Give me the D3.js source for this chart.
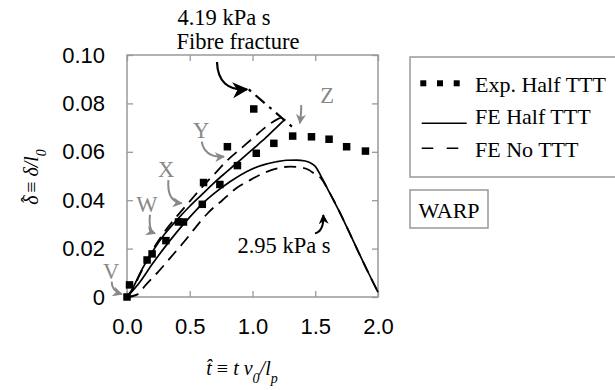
<!DOCTYPE html>
<html>
<head>
<meta charset="utf-8">
<script src="https://cdn.jsdelivr.net/npm/d3@7"></script>
<style>
  body { margin: 0; background: #fff; }
  .tick text { font-family: "Liberation Sans", Arial, sans-serif; font-size: 22px; fill: #000; }
  .serif { font-family: "Liberation Serif", "Times New Roman", serif; }
</style>
</head>
<body>
<div id="chart-container"></div>
<script>
// Exp. Half TTT (squares)
var expX = [0, 0.02, 0.16, 0.20, 0.31, 0.41, 0.45, 0.60, 0.61, 0.74, 0.80, 0.88, 1.01, 1.03, 1.17, 1.32, 1.47, 1.61, 1.75, 1.90];
var expY = [0, 0.005, 0.0153, 0.0178, 0.0233, 0.031, 0.031, 0.0383, 0.0473, 0.0465, 0.0621, 0.0543, 0.0777, 0.0594, 0.0635, 0.0665, 0.0662, 0.0652, 0.0621, 0.0603];

// FE Half TTT, 4.19 kPa s (fractures)
var feHalfHiX = [0, 0.05, 0.1, 0.2, 0.3, 0.4, 0.5, 0.6, 0.7, 0.8, 0.9, 1.0, 1.1, 1.2, 1.26];
var feHalfHiY = [0, 0.004, 0.0095, 0.0185, 0.026, 0.032, 0.0375, 0.0425, 0.0475, 0.052, 0.0565, 0.061, 0.0655, 0.0705, 0.0735];

// FE No TTT, 4.19 kPa s
var feNoHiX = [0, 0.05, 0.1, 0.2, 0.3, 0.4, 0.5, 0.6, 0.7, 0.8, 0.9, 1.0, 1.1, 1.2, 1.25];
var feNoHiY = [0, 0.0035, 0.009, 0.019, 0.027, 0.0335, 0.0395, 0.0455, 0.051, 0.0565, 0.061, 0.0655, 0.070, 0.0735, 0.0745];

// FE Half TTT, 2.95 kPa s
var feHalfLoX = [0, 0.1, 0.2, 0.3, 0.4, 0.5, 0.6, 0.7, 0.82, 0.98, 1.1, 1.19, 1.27, 1.35, 1.42, 1.47, 1.5, 1.55, 1.6, 1.7, 1.8, 1.9, 2.0];
var feHalfLoY = [0, 0.006, 0.0135, 0.0205, 0.027, 0.033, 0.0385, 0.043, 0.0476, 0.0525, 0.0548, 0.0559, 0.0565, 0.0566, 0.0562, 0.0552, 0.054, 0.0495, 0.0445, 0.0345, 0.0235, 0.0125, 0.002];

// FE No TTT, 2.95 kPa s
var feNoLoX = [0, 0.08, 0.15, 0.25, 0.35, 0.45, 0.55, 0.65, 0.76, 0.87, 0.98, 1.08, 1.2, 1.3, 1.38, 1.45, 1.49, 1.55, 1.6, 1.7, 1.8, 1.9, 2.0];
var feNoLoY = [0, 0.001, 0.005, 0.0105, 0.0165, 0.0225, 0.029, 0.035, 0.040, 0.0449, 0.0483, 0.051, 0.0532, 0.0539, 0.0536, 0.0525, 0.051, 0.0488, 0.0445, 0.0345, 0.0235, 0.0125, 0.002];

// fibre fracture dash-dot segment
var fractureX = [0.97, 1.33];
var fractureY = [0.0858, 0.0697];

var xTicks = [0.0, 0.5, 1.0, 1.5, 2.0];
var yTicks = [0, 0.02, 0.04, 0.06, 0.08, 0.10];

var legendLabels = ["Exp. Half TTT", "FE Half TTT", "FE No TTT"];

var svg = d3.select("#chart-container").append("svg")
    .attr("width", 615)
    .attr("height", 390);

var x = d3.scaleLinear().domain([0, 2]).range([127, 378]);
var y = d3.scaleLinear().domain([0, 0.1]).range([297, 55]);

function zip(xs, ys) { return xs.map(function(v, i) { return [v, ys[i]]; }); }

// markers for arrows
var defs = svg.append("defs");
function head(id, w, h, col) {
    defs.append("marker").attr("id", id)
        .attr("viewBox", "0 0 10 10").attr("refX", 9).attr("refY", 5)
        .attr("markerUnits", "userSpaceOnUse")
        .attr("markerWidth", w).attr("markerHeight", h).attr("orient", "auto")
        .append("path").attr("d", "M0,0 L10,5 L0,10 L3,5 Z").attr("fill", col);
}
head("headBig", 19, 16, "#000");
head("headBlack", 11, 10, "#000");
head("headGray", 11, 10, "#888");

// axes (inward ticks)
var xAxis = d3.axisBottom(x).tickValues(xTicks).tickSize(-6).tickPadding(21)
    .tickFormat(d3.format(".1f"));
var yAxis = d3.axisLeft(y).tickValues(yTicks).tickSize(-6).tickPadding(22)
    .tickFormat(function(d) { return d === 0 ? "0" : d.toFixed(2); });

svg.append("g").attr("transform", "translate(0,297)").call(xAxis);
svg.append("g").attr("transform", "translate(127,0)").call(yAxis);
svg.append("g").attr("transform", "translate(0,55)")
    .call(d3.axisTop(x).tickValues(xTicks).tickSize(-6).tickFormat(""));
svg.append("g").attr("transform", "translate(378,0)")
    .call(d3.axisRight(y).tickValues(yTicks).tickSize(-6).tickFormat(""));
svg.selectAll(".domain").remove();
svg.selectAll(".tick line").attr("stroke", "#999").attr("stroke-width", 1.3);

svg.append("rect")
    .attr("x", x(0)).attr("y", y(0.1))
    .attr("width", x(2) - x(0)).attr("height", y(0) - y(0.1))
    .attr("fill", "none").attr("stroke", "#999").attr("stroke-width", 1.5);

// curves
var line = d3.line().x(function(d) { return x(d[0]); }).y(function(d) { return y(d[1]); })
    .curve(d3.curveMonotoneX);

function drawCurve(xs, ys, dash, w) {
    svg.append("path")
        .datum(zip(xs, ys))
        .attr("d", line)
        .attr("fill", "none")
        .attr("stroke", "#000")
        .attr("stroke-width", w)
        .attr("stroke-dasharray", dash);
}
drawCurve(feHalfLoX, feHalfLoY, null, 1.7);
drawCurve(feNoLoX, feNoLoY, "12,7", 1.8);
drawCurve(feHalfHiX, feHalfHiY, null, 1.7);
drawCurve(feNoHiX, feNoHiY, "12,7", 1.8);
drawCurve(fractureX, fractureY, "3,6,12,6", 2.2);

// experiment squares
svg.selectAll(".sq").data(zip(expX, expY)).enter().append("rect")
    .attr("class", "sq")
    .attr("x", function(d) { return x(d[0]) - 3.75; })
    .attr("y", function(d) { return y(d[1]) - 3.75; })
    .attr("width", 7.5).attr("height", 7.5)
    .attr("fill", "#000");

// annotation arrows (start, control, tip) in data units
var arrows = [
    { p: [[0.717, 0.0971], [0.725, 0.085], [0.956, 0.0858]], m: "headBig", c: "#000", w: 2.2 },
    { p: [[1.387, 0.0793], [1.392, 0.078], [1.378, 0.0718]], m: "headGray", c: "#888", w: 2 },
    { p: [[0.595, 0.0642], [0.62, 0.0575], [0.773, 0.058]], m: "headGray", c: "#888", w: 2 },
    { p: [[0.33, 0.0483], [0.316, 0.0395], [0.436, 0.0387]], m: "headGray", c: "#888", w: 2 },
    { p: [[0.183, 0.0339], [0.17, 0.0272], [0.223, 0.0263]], m: "headGray", c: "#888", w: 2 },
    { p: [[-0.122, 0.0063], [-0.122, 0.0025], [-0.042, 0.0012]], m: "headGray", c: "#888", w: 2 },
    { p: [[1.498, 0.0263], [1.57, 0.0272], [1.564, 0.0339]], m: "headBlack", c: "#000", w: 2 }
];
arrows.forEach(function(a) {
    var p = a.p.map(function(d) { return [x(d[0]), y(d[1])]; });
    svg.append("path")
        .attr("d", "M" + p[0] + " Q" + p[1] + " " + p[2])
        .attr("fill", "none").attr("stroke", a.c).attr("stroke-width", a.w)
        .attr("marker-end", "url(#" + a.m + ")");
});

// annotation texts
var notes = [
    { t: "4.19 kPa s", x: 0.773, y: 0.1124, c: "#000" },
    { t: "Fibre fracture", x: 0.884, y: 0.1025, c: "#000" },
    { t: "Z", x: 1.594, y: 0.0802, c: "#888" },
    { t: "Y", x: 0.59, y: 0.0657, c: "#888" },
    { t: "X", x: 0.311, y: 0.0496, c: "#888" },
    { t: "W", x: 0.159, y: 0.0351, c: "#888" },
    { t: "V", x: -0.127, y: 0.0074, c: "#888" },
    { t: "2.95 kPa s", x: 1.251, y: 0.0182, c: "#000" }
];
svg.selectAll(".note").data(notes).enter().append("text")
    .attr("class", "note serif")
    .attr("x", function(d) { return x(d.x); })
    .attr("y", function(d) { return y(d.y); })
    .attr("text-anchor", "middle")
    .attr("font-size", 22.5)
    .attr("fill", function(d) { return d.c; })
    .text(function(d) { return d.t; });

// axis titles
var xt = svg.append("text").attr("class", "serif")
    .attr("x", 242).attr("y", 375).attr("text-anchor", "middle")
    .attr("font-size", 20).attr("font-style", "italic");
xt.append("tspan").text("t\u0302");
xt.append("tspan").attr("font-style", "normal").text(" \u2261");
xt.append("tspan").text(" t v");
xt.append("tspan").attr("baseline-shift", "sub").attr("font-size", 14).text("0");
xt.append("tspan").text("/l");
xt.append("tspan").attr("baseline-shift", "sub").attr("font-size", 14).text("p");

var yt = svg.append("text").attr("class", "serif")
    .attr("transform", "translate(38,177) rotate(-90)")
    .attr("text-anchor", "middle")
    .attr("font-size", 20).attr("font-style", "italic");
yt.append("tspan").text("\u03b4");
yt.append("tspan").attr("dx", -9).attr("dy", -2).text("\u02c6");
yt.append("tspan").attr("dy", 2).attr("font-style", "normal").text(" \u2261");
yt.append("tspan").text(" \u03b4/l");
yt.append("tspan").attr("baseline-shift", "sub").attr("font-size", 14).text("0");

// legend
var lg = svg.append("g");
lg.append("rect").attr("x", 410).attr("y", 57).attr("width", 214).attr("height", 120)
    .attr("fill", "none").attr("stroke", "#999").attr("stroke-width", 1.5);
[423.3, 440, 456.7].forEach(function(cx) {
    lg.append("rect").attr("x", cx - 3).attr("y", 80.3).attr("width", 6).attr("height", 6).attr("fill", "#000");
});
lg.append("line").attr("x1", 421.7).attr("x2", 466.7).attr("y1", 123.3).attr("y2", 123.3)
    .attr("stroke", "#000").attr("stroke-width", 1.5);
lg.append("line").attr("x1", 421.7).attr("x2", 460).attr("y1", 148.3).attr("y2", 148.3)
    .attr("stroke", "#000").attr("stroke-width", 1.5).attr("stroke-dasharray", "11.6,13.4");
lg.selectAll(".lt").data(legendLabels).enter().append("text")
    .attr("class", "lt serif")
    .attr("x", 475)
    .attr("y", function(d, i) { return 91.5 + i * 32.5; })
    .attr("font-size", 22)
    .text(function(d) { return d; });

lg.append("rect").attr("x", 410).attr("y", 190).attr("width", 78).attr("height", 38)
    .attr("fill", "none").attr("stroke", "#999").attr("stroke-width", 1.5);
lg.append("text").attr("class", "serif").attr("x", 449).attr("y", 218)
    .attr("text-anchor", "middle").attr("font-size", 22).text("WARP");
</script>
</body>
</html>
